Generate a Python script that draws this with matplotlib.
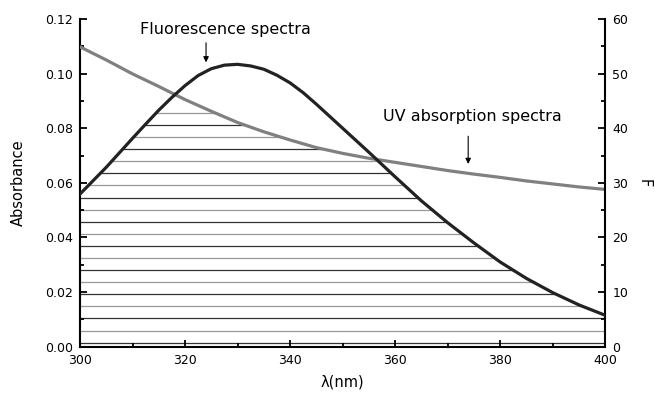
import numpy as np
import matplotlib
matplotlib.use("Agg")
import matplotlib.pyplot as plt
from matplotlib.ticker import MultipleLocator

plt.rcParams['font.family'] = ['DejaVu Sans']

# fluorescence intensity F (right axis) vs wavelength (nm)
fluor_wl = [300, 305, 310, 312.5, 315, 317.5, 320, 322.5, 325, 327.5, 330, 332.5,
            335, 337.5, 340, 342.5, 345, 350, 355, 360, 365, 370, 375, 380,
            385, 390, 395, 400]
fluorescence = [27.95, 32.85, 38.15, 40.75, 43.3, 45.65, 47.8, 49.65, 50.9, 51.55, 51.7, 51.4,
                50.8, 49.7, 48.3, 46.5, 44.4, 40.0, 35.6, 31.1, 26.7, 22.7, 19.0, 15.5,
                12.5, 9.9, 7.65, 5.75]
# UV absorbance (left axis) vs wavelength (nm)
uv_wl = [300, 305, 310, 315, 320, 325, 330, 335, 340, 345, 350,
         355, 360, 365, 370, 375, 380, 385, 390, 395, 400]
absorbance = [0.1098, 0.1050, 0.0999, 0.0953, 0.0905, 0.0862, 0.0821, 0.0787, 0.0757, 0.0729, 0.0708,
              0.0690, 0.0675, 0.0660, 0.0645, 0.0632, 0.0620, 0.0607, 0.0596, 0.0585, 0.0576]

fig = plt.figure(figsize=(6.55, 3.94), dpi=100)
ax = fig.add_axes([0.1221, 0.120, 0.8020, 0.8318])
ax2 = ax.twinx()

ax.set_xlim(300, 400)
ax.set_ylim(0, 0.12)
ax2.set_ylim(0, 60)

# hatched overlap region: horizontal lines under both curves
ratio = 0.12 / 60
x_fine = np.linspace(300, 400, 2001)
f_abs = np.interp(x_fine, fluor_wl, np.array(fluorescence) * ratio)
uv_abs = np.interp(x_fine, uv_wl, absorbance)
overlap = np.minimum(f_abs, uv_abs)
levels = np.linspace(0.0015, 0.0856, 20)
for i, lev in enumerate(levels):
    inside = x_fine[overlap >= lev]
    if len(inside) == 0:
        continue
    col = '#333333' if i % 2 == 0 else '#999999'
    ax.hlines(lev, inside[0], inside[-1], color=col, lw=0.9, zorder=1)

ax.plot(uv_wl, absorbance, color='#808080', lw=2.3, zorder=3)
ax2.plot(fluor_wl, fluorescence, color='#222222', lw=2.3, zorder=3)

# spines / ticks
for a in (ax, ax2):
    a.spines['top'].set_visible(False)
    for s in ('left', 'right', 'bottom'):
        a.spines[s].set_linewidth(1.5)
ax.spines['right'].set_visible(False)
ax2.spines['left'].set_visible(False)
ax2.spines['bottom'].set_visible(False)

ax.xaxis.set_major_locator(MultipleLocator(20))
ax.xaxis.set_minor_locator(MultipleLocator(10))
ax.yaxis.set_major_locator(MultipleLocator(0.02))
ax.yaxis.set_minor_locator(MultipleLocator(0.01))
ax2.yaxis.set_major_locator(MultipleLocator(10))
ax2.yaxis.set_minor_locator(MultipleLocator(5))
ax.yaxis.set_major_formatter(plt.FormatStrFormatter('%.2f'))

ax.tick_params(which='both', direction='in', width=1.3, labelsize=9, top=False, right=False)
ax.tick_params(which='major', length=5, pad=5)
ax.tick_params(which='minor', length=3)
ax2.tick_params(which='both', direction='in', width=1.3, labelsize=9)
ax2.tick_params(which='major', length=5, pad=5)
ax2.tick_params(which='minor', length=3)

ax.set_xlabel('λ(nm)', fontsize=10.5, labelpad=6)
ax.set_ylabel('Absorbance', fontsize=10.5, labelpad=14)
ax2.set_ylabel('F', fontsize=10.5, rotation=270, labelpad=17)

arrow = dict(arrowstyle='-|>', color='black', lw=0.8, mutation_scale=8)
ax.text(327.6, 0.1163, 'Fluorescence spectra', ha='center', va='center', fontsize=11.5)
ax.annotate('', xy=(324.0, 0.1031), xytext=(324.0, 0.1123), arrowprops=dict(arrow))
ax.text(374.7, 0.0842, 'UV absorption spectra', ha='center', va='center', fontsize=11.5)
ax.annotate('', xy=(373.9, 0.0659), xytext=(373.9, 0.0781), arrowprops=dict(arrow))

fig.savefig('out.png', dpi=100)
